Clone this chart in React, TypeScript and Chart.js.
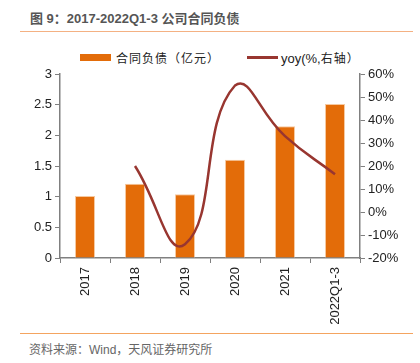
import React, { useEffect, useRef } from "react";
import { Chart, registerables } from "chart.js";

Chart.register(...registerables);

const categories = ["2017", "2018", "2019", "2020", "2021", "2022Q1-3"];
const contractLiabilities = [1.01, 1.21, 1.04, 1.6, 2.15, 2.51];
const yoy = [null, 20, -14, 55, 33, 16.4];
const leftTicks = [0, 0.5, 1, 1.5, 2, 2.5, 3];
const rightTicks = [-20, -10, 0, 10, 20, 30, 40, 50, 60];

const BAR = "#E36C09";
const LINE = "#983630";
const AXIS = "#808080";
const FONT = "'Liberation Sans', Arial, 'Noto Sans CJK SC', sans-serif";

export default function App() {
  const ref = useRef<HTMLCanvasElement | null>(null);
  useEffect(() => {
    if (!ref.current) return;
    const chart = new Chart(ref.current, {
      data: {
        labels: categories,
        datasets: [
          {
            type: "line",
            label: "yoy(%,右轴)",
            data: yoy,
            borderColor: LINE,
            backgroundColor: LINE,
            borderWidth: 2.5,
            pointRadius: 0,
            tension: 0.5,
            yAxisID: "y1",
            order: 0,
          },
          {
            type: "bar",
            label: "合同负债（亿元）",
            data: contractLiabilities,
            backgroundColor: BAR,
            borderColor: "#F6C9A0",
            borderWidth: 1,
            barPercentage: 0.8,
            categoryPercentage: 0.5,
            yAxisID: "y",
            order: 1,
          },
        ],
      },
      options: {
        animation: false,
        responsive: false,
        layout: { padding: { top: 34, left: 0, right: 0, bottom: 0 } },
        plugins: { legend: { display: false }, tooltip: { enabled: false } },
        scales: {
          x: {
            offset: true,
            grid: { display: true, offset: true, drawOnChartArea: false, drawTicks: true, tickLength: 5, color: AXIS },
            border: { display: true, color: AXIS, width: 1.5 },
            ticks: { minRotation: 90, maxRotation: 90, color: "#222", font: { family: FONT, size: 13 }, padding: 4 },
            afterFit: (s: any) => { s.height = 72; },
          },
          y: {
            position: "left",
            min: 0,
            max: 3,
            afterBuildTicks: (s: any) => { s.ticks = leftTicks.map((v) => ({ value: v })); },
            grid: { display: true, drawOnChartArea: false, drawTicks: true, tickLength: 5, color: AXIS },
            border: { display: true, color: AXIS, width: 1.5 },
            ticks: { color: "#222", font: { family: FONT, size: 13 }, padding: 3, callback: (v: any) => String(v) },
            afterFit: (s: any) => { s.width = 60; },
          },
          y1: {
            position: "right",
            min: -20,
            max: 60,
            afterBuildTicks: (s: any) => { s.ticks = rightTicks.map((v) => ({ value: v })); },
            grid: { display: true, drawOnChartArea: false, drawTicks: true, tickLength: 5, color: AXIS },
            border: { display: true, color: AXIS, width: 1.5 },
            ticks: { color: "#222", font: { family: FONT, size: 13 }, padding: 3, callback: (v: any) => v + "%" },
            afterFit: (s: any) => { s.width = 60; },
          },
        },
      },
    });
    return () => chart.destroy();
  }, []);

  return (
    <div style={{ position: "fixed", left: 0, top: 0, width: 420, height: 363, background: "#fff", fontFamily: FONT }}>
      <div style={{ position: "absolute", left: 30, top: 8, fontSize: 13, fontWeight: "bold", color: "#555", whiteSpace: "nowrap" }}>
        图 9：2017-2022Q1-3 公司合同负债
      </div>
      <div style={{ position: "absolute", left: 20, top: 31, width: 393, height: 1, background: "#F4B183" }} />
      <div style={{ position: "absolute", left: 80, top: 49, display: "flex", alignItems: "center", fontSize: 12, color: "#222", whiteSpace: "nowrap" }}>
        <span style={{ display: "inline-block", width: 31, height: 7, background: BAR, marginRight: 5 }} />
        <span style={{ letterSpacing: 1, fontFamily: "'Noto Sans CJK SC', sans-serif" }}>合同负债（亿元）</span>
      </div>
      <div style={{ position: "absolute", left: 247, top: 49, display: "flex", alignItems: "center", fontSize: 13, color: "#222", whiteSpace: "nowrap" }}>
        <span style={{ display: "inline-block", width: 31, height: 3, background: LINE, marginRight: 3 }} />
        <span>yoy(%,<span style={{ fontFamily: "'Noto Sans CJK SC', sans-serif", fontSize: 12, letterSpacing: 1 }}>右轴）</span></span>
      </div>
      <canvas ref={ref} width={420} height={290} style={{ position: "absolute", left: 0, top: 40, width: 420, height: 290 }} />
      <div style={{ position: "absolute", left: 20, top: 333, width: 393, height: 1, background: "#F4A460" }} />
      <div style={{ position: "absolute", left: 29, top: 340, fontSize: 12, color: "#666", whiteSpace: "nowrap" }}>
        资料来源：Wind，天风证券研究所
      </div>
    </div>
  );
}
